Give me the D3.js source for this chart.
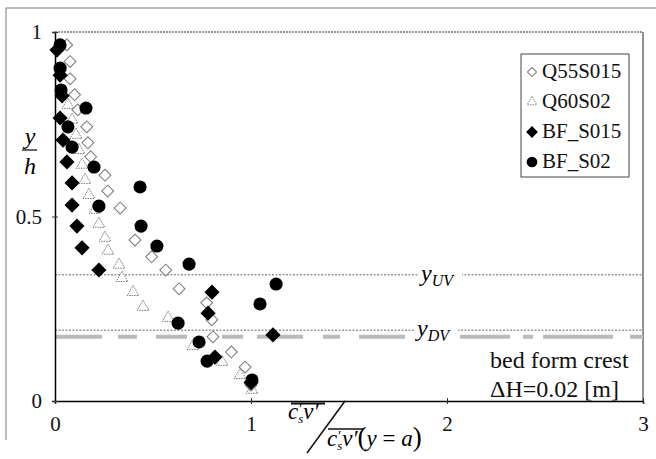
<!DOCTYPE html>
<html>
<head>
<meta charset="utf-8">
<script src="https://cdn.jsdelivr.net/npm/d3@7"></script>
<style>
  body { margin: 0; background: #fff; }
</style>
</head>
<body>
<script>
const w = 656;
const h = 459;
const serif = "'Liberation Serif', 'Times New Roman', Times, 'DejaVu Serif', serif";

// Data

const seriesNames = ["Q55S015", "Q60S02", "BF_S015", "BF_S02"];

const q55x = [0.06, 0.077, 0.077, 0.10, 0.116, 0.162, 0.168, 0.182, 0.255, 0.269, 0.332, 0.408, 0.493, 0.565, 0.633, 0.774, 0.80, 0.806, 0.90, 0.97, 1.0];
const q55y = [0.965, 0.92, 0.873, 0.83, 0.789, 0.743, 0.70, 0.662, 0.612, 0.569, 0.523, 0.436, 0.391, 0.355, 0.304, 0.266, 0.22, 0.174, 0.133, 0.092, 0.043];

const q60x = [0.066, 0.087, 0.107, 0.122, 0.138, 0.153, 0.173, 0.204, 0.224, 0.255, 0.27, 0.327, 0.342, 0.398, 0.449, 0.577, 0.704, 0.852, 0.944, 1.005];
const q60y = [0.802, 0.762, 0.721, 0.68, 0.64, 0.599, 0.558, 0.518, 0.48, 0.442, 0.407, 0.369, 0.333, 0.295, 0.255, 0.225, 0.149, 0.106, 0.07, 0.03];

const bf15x = [0.01, 0.026, 0.036, 0.026, 0.041, 0.061, 0.087, 0.087, 0.112, 0.138, 0.224, 0.801, 0.781, 1.112, 0.816, 1.0];
const bf15y = [0.951, 0.883, 0.827, 0.767, 0.707, 0.648, 0.591, 0.531, 0.474, 0.415, 0.355, 0.295, 0.238, 0.179, 0.119, 0.05];

const bf02x = [0.026, 0.026, 0.031, 0.158, 0.066, 0.087, 0.199, 0.434, 0.224, 0.439, 0.52, 0.684, 1.128, 1.046, 0.628, 0.735, 0.776, 1.005];
const bf02y = [0.965, 0.902, 0.843, 0.794, 0.743, 0.688, 0.634, 0.58, 0.528, 0.474, 0.42, 0.371, 0.317, 0.263, 0.211, 0.16, 0.108, 0.057];

const refNames = ["UV", "DV"];
const refValues = [0.342, 0.192];
const crestValue = 0.174;

const xTicks = [0, 1, 2, 3];
const yTicks = [0, 0.5, 1];
const yTickLabels = ["0", "0.5", "1"];

// SVG

const svg = d3.select("body").append("svg")
  .attr("width", w).attr("height", h)
  .style("font-family", serif);

// Scales

const x = d3.scaleLinear().domain([0, 3]).range([55, 643]);
const y = d3.scaleLinear().domain([0, 1]).range([401, 32]);

// Outer frame

svg.append("line").attr("x1", 6).attr("x2", 656).attr("y1", 8).attr("y2", 8)
  .attr("stroke", "#777").attr("stroke-width", 1);
svg.append("line").attr("x1", 6).attr("x2", 6).attr("y1", 8).attr("y2", 440)
  .attr("stroke", "#777").attr("stroke-width", 1);

// Plot border

svg.append("line").attr("x1", x(0)).attr("x2", x(3)).attr("y1", y(1)).attr("y2", y(1))
  .attr("stroke", "#333").attr("stroke-dasharray", "2,1");
svg.append("line").attr("x1", x(3)).attr("x2", x(3)).attr("y1", y(1)).attr("y2", y(0))
  .attr("stroke", "#222");

// Reference lines

svg.append("line")
  .attr("x1", x(0)).attr("x2", x(3))
  .attr("y1", y(crestValue)).attr("y2", y(crestValue))
  .attr("stroke", "#bbb").attr("stroke-width", 4)
  .attr("stroke-dasharray", "47,16,19,19,31,35,21,14,46,20,17,19,46,55,50,13,10,10,70,17,15");

svg.append("g")
  .selectAll("line")
  .data(refValues)
  .join("line")
  .attr("x1", x(0)).attr("x2", x(3))
  .attr("y1", (d) => y(d)).attr("y2", (d) => y(d))
  .attr("stroke", "#666").attr("stroke-width", 1).attr("stroke-dasharray", "2,1.5");

const refLabel = svg.append("g")
  .selectAll("g")
  .data(refValues)
  .join("g")
  .attr("transform", (d, i) => `translate(${i === 0 ? 421 : 417},${y(d) + 6})`);
refLabel.append("rect").attr("x", -3).attr("y", -16).attr("width", 44).attr("height", 22).attr("fill", "#fff");
refLabel.append("text")
  .style("font-size", "24px").style("font-style", "italic")
  .text("y")
  .append("tspan").attr("dy", 5).style("font-size", "16px")
  .text((d, i) => refNames[i]);

// Axes

const xAxis = svg.append("g")
  .attr("transform", `translate(0,${y(0)})`)
  .call(d3.axisBottom(x).tickValues(xTicks).tickSize(3).tickPadding(12).tickFormat(d3.format("d")));
xAxis.attr("font-family", null).attr("font-size", null);
xAxis.select(".domain").attr("stroke", "#000").attr("stroke-width", 1.5);
xAxis.selectAll(".tick line").attr("y1", -3).attr("stroke", "#333");
xAxis.selectAll(".tick text").style("font-size", "21px").attr("fill", "#111");

const yAxis = svg.append("g")
  .attr("transform", `translate(${x(0)},0)`)
  .call(d3.axisLeft(y).tickValues(yTicks).tickSize(3).tickPadding(10).tickFormat((d, i) => yTickLabels[i]));
yAxis.attr("font-family", null).attr("font-size", null);
yAxis.select(".domain").attr("stroke", "#000").attr("stroke-width", 1.5);
yAxis.selectAll(".tick line").attr("x1", 3).attr("x2", -3).attr("stroke", "#333");
yAxis.selectAll(".tick text").style("font-size", "21px").attr("fill", "#111");

// Markers

const diamondOpen = d3.symbol(d3.symbolSquare, 70)();
const diamondFilled = d3.symbol(d3.symbolSquare, 115)();
const triangle = d3.symbol(d3.symbolTriangle, 60)();
const circle = d3.symbol(d3.symbolCircle, 135)();

svg.append("g")
  .selectAll("path")
  .data(d3.range(q60x.length))
  .join("path")
  .attr("d", triangle)
  .attr("transform", (i) => `translate(${x(q60x[i])},${y(q60y[i])})`)
  .attr("fill", "#fff").attr("stroke", "#777").attr("stroke-width", 1).attr("stroke-dasharray", "1.5,1");

svg.append("g")
  .selectAll("path")
  .data(d3.range(q55x.length))
  .join("path")
  .attr("d", diamondOpen)
  .attr("transform", (i) => `translate(${x(q55x[i])},${y(q55y[i])}) rotate(45)`)
  .attr("fill", "#fff").attr("stroke", "#777").attr("stroke-width", 1);

svg.append("g")
  .selectAll("path")
  .data(d3.range(bf15x.length))
  .join("path")
  .attr("d", diamondFilled)
  .attr("transform", (i) => `translate(${x(bf15x[i])},${y(bf15y[i])}) rotate(45)`)
  .attr("fill", "#000");

svg.append("g")
  .selectAll("path")
  .data(d3.range(bf02x.length))
  .join("path")
  .attr("d", circle)
  .attr("transform", (i) => `translate(${x(bf02x[i])},${y(bf02y[i])})`)
  .attr("fill", "#000");

// Legend

const legend = svg.append("g").attr("transform", "translate(521,54)");
legend.append("rect").attr("width", 108).attr("height", 123)
  .attr("fill", "#fff").attr("stroke", "#444").attr("stroke-width", 1);

const legendMarks = [
  { d: d3.symbol(d3.symbolSquare, 42)(), rot: 45, fill: "#fff", stroke: "#777", dash: null },
  { d: d3.symbol(d3.symbolTriangle, 40)(), rot: 0, fill: "#fff", stroke: "#888", dash: "1.5,1" },
  { d: d3.symbol(d3.symbolSquare, 70)(), rot: 45, fill: "#000", stroke: "none", dash: null },
  { d: d3.symbol(d3.symbolCircle, 90)(), rot: 0, fill: "#000", stroke: "none", dash: null }
];

const entry = legend.selectAll("g.entry")
  .data(seriesNames)
  .join("g")
  .attr("class", "entry")
  .attr("transform", (d, i) => `translate(0,${24 + i * 30})`);
entry.append("path")
  .attr("d", (d, i) => legendMarks[i].d)
  .attr("transform", (d, i) => `translate(11,-6) rotate(${legendMarks[i].rot})`)
  .attr("fill", (d, i) => legendMarks[i].fill)
  .attr("stroke", (d, i) => legendMarks[i].stroke)
  .attr("stroke-dasharray", (d, i) => legendMarks[i].dash);
entry.append("text").attr("x", 21).style("font-size", "21px").attr("fill", "#111").text((d) => d);

// Annotation

const note = svg.append("g");
note.append("rect").attr("x", 486).attr("y", 340).attr("width", 156).attr("height", 60).attr("fill", "#fff");
note.append("text").attr("x", 490).attr("y", 368).style("font-size", "24px").attr("fill", "#111").text("bed form crest");
note.append("text").attr("x", 490).attr("y", 397).style("font-size", "24px").attr("fill", "#111").text("\u0394H=0.02 [m]");

// Y label

const yLabel = svg.append("g").attr("transform", "translate(30,0)");
yLabel.append("text").attr("y", 144).attr("text-anchor", "middle")
  .style("font-size", "24px").style("font-style", "italic").text("y");
yLabel.append("line").attr("x1", -8).attr("x2", 7).attr("y1", 150).attr("y2", 150)
  .attr("stroke", "#111").attr("stroke-width", 1.3);
yLabel.append("text").attr("y", 174).attr("text-anchor", "middle")
  .style("font-size", "24px").style("font-style", "italic").text("h");

// X label

const xLabel = svg.append("g").style("font-style", "italic");
xLabel.append("line").attr("x1", 291).attr("x2", 325).attr("y1", 403.5).attr("y2", 403.5)
  .attr("stroke", "#111").attr("stroke-width", 2);
const num = xLabel.append("text").attr("x", 288).attr("y", 419).style("font-size", "23px");
num.append("tspan").text("c");
num.append("tspan").attr("dy", -5).style("font-size", "14px").text("\u2032");
num.append("tspan").attr("dx", -3).attr("dy", 9).style("font-size", "13px").text("s");
num.append("tspan").attr("dy", -4).text("v\u2032");

xLabel.append("line").attr("x1", 307).attr("x2", 345).attr("y1", 453).attr("y2", 401)
  .attr("stroke", "#111").attr("stroke-width", 1.5);

xLabel.append("line").attr("x1", 328).attr("x2", 364).attr("y1", 429).attr("y2", 429)
  .attr("stroke", "#111").attr("stroke-width", 1.3);
const den = xLabel.append("text").attr("x", 327).attr("y", 446).style("font-size", "23px");
den.append("tspan").text("c");
den.append("tspan").attr("dy", -5).style("font-size", "14px").text("\u2032");
den.append("tspan").attr("dx", -3).attr("dy", 9).style("font-size", "13px").text("s");
den.append("tspan").attr("dy", -4).text("v\u2032");
den.append("tspan").style("font-style", "normal").style("font-size", "27px").text("(");
den.append("tspan").text("y");
den.append("tspan").style("font-style", "normal").text(" = ");
den.append("tspan").text("a");
den.append("tspan").style("font-style", "normal").style("font-size", "27px").text(")");
</script>
</body>
</html>
